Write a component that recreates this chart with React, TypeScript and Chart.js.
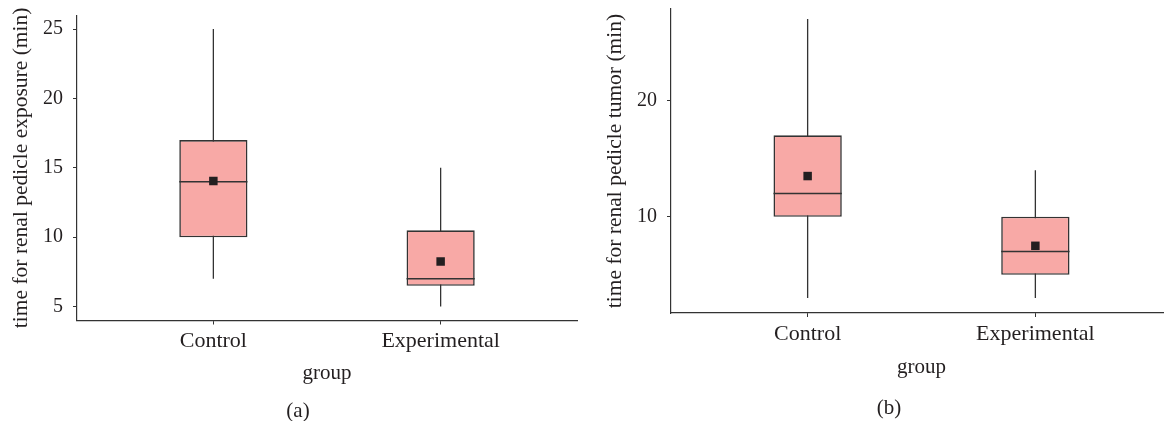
import React, { useEffect, useRef } from "react";
import { Chart, registerables } from "chart.js";

Chart.register(...registerables);

// ---------- data ----------
const groups = ["Control", "Experimental"];

// Panel (a): time for renal pedicle exposure (min)
const exposureMin = [7, 5];
const exposureQ1 = [10, 6.5];
const exposureMedian = [14, 7];
const exposureQ3 = [17, 10.5];
const exposureMax = [25, 15];
const exposureMean = [14.05, 8.25];
const exposureTicks = [5, 10, 15, 20, 25];

// Panel (b): time for renal pedicle tumor (min)
const tumorMin = [3, 3];
const tumorQ1 = [10, 5];
const tumorMedian = [12, 7];
const tumorQ3 = [17, 10];
const tumorMax = [27, 14];
const tumorMean = [13.5, 7.5];
const tumorTicks = [10, 20];

// ---------- style ----------
const FONT = '"Liberation Serif", "DejaVu Serif", serif';
const TEXT = "#231F20";
const LINE = "#333333";
const FILL = "#F8A9A6";
const BOX_WIDTH = 0.3;

function buildDatasets(
  mins: number[],
  q1: number[],
  med: number[],
  q3: number[],
  maxs: number[],
  mean: number[]
): any[] {
  const whiskers: any[] = [];
  const medians: any[] = [];
  groups.forEach((_, i) => {
    const x = i + 1;
    whiskers.push({ x, y: mins[i] }, { x, y: maxs[i] }, { x, y: null });
    medians.push(
      { x: x - BOX_WIDTH / 2, y: med[i] },
      { x: x + BOX_WIDTH / 2, y: med[i] },
      { x, y: null }
    );
  });
  return [
    {
      type: "line",
      label: "mean",
      data: mean.map((m, i) => ({ x: i + 1, y: m })),
      showLine: false,
      pointStyle: "rect",
      pointRadius: 6,
      pointHoverRadius: 6,
      pointBackgroundColor: "#231F20",
      pointBorderWidth: 0,
      order: 0,
    },
    {
      type: "line",
      label: "median",
      data: medians,
      borderColor: LINE,
      borderWidth: 1.5,
      pointRadius: 0,
      spanGaps: false,
      order: 1,
    },
    {
      type: "bar",
      label: "box",
      data: q1.map((v, i) => ({ x: i + 1, y: [v, q3[i]] })),
      backgroundColor: FILL,
      borderColor: LINE,
      borderWidth: 1.6,
      borderSkipped: false,
      barPercentage: BOX_WIDTH,
      categoryPercentage: 1,
      order: 2,
    },
    {
      type: "line",
      label: "whisker",
      data: whiskers,
      borderColor: LINE,
      borderWidth: 1.3,
      pointRadius: 0,
      spanGaps: false,
      order: 3,
    },
  ];
}

const captionPlugin = {
  id: "caption",
  afterDraw(chart: any, _args: any, opts: any) {
    const { ctx } = chart;
    ctx.save();
    ctx.font = `21px ${FONT}`;
    ctx.fillStyle = TEXT;
    ctx.textAlign = "center";
    ctx.textBaseline = "middle";
    ctx.fillText(opts.text, opts.x, opts.y);
    ctx.restore();
  },
};

type PanelProps = {
  left: number;
  viewWidth: number;
  canvasWidth: number;
  yAxisWidth: number;
  xAxisHeight: number;
  padTop: number;
  padRight: number;
  yMin: number;
  yMax: number;
  xMax: number;
  yTicks: number[];
  yTitle: string;
  yTitlePad: number;
  xTitlePad: number;
  caption: string;
  captionX: number;
  captionY: number;
  datasets: any[];
};

function Panel(p: PanelProps) {
  const ref = useRef<HTMLCanvasElement | null>(null);
  useEffect(() => {
    if (!ref.current) return;
    const chart = new Chart(ref.current, {
      type: "bar",
      data: { datasets: p.datasets },
      plugins: [captionPlugin as any],
      options: {
        animation: false,
        responsive: false,
        maintainAspectRatio: false,
        layout: {
          autoPadding: false,
          padding: { left: 0, right: p.padRight, top: p.padTop, bottom: 0 },
        },
        plugins: {
          legend: { display: false },
          tooltip: { enabled: false },
          caption: { text: p.caption, x: p.captionX, y: p.captionY },
        } as any,
        scales: {
          x: {
            type: "linear",
            min: 0.4,
            max: p.xMax,
            offset: false,
            afterBuildTicks: (s: any) => {
              s.ticks = groups.map((_, i) => ({ value: i + 1 }));
            },
            afterFit: (s: any) => {
              s.height = p.xAxisHeight;
              s.paddingLeft = 0;
              s.paddingRight = 0;
              s.paddingTop = 0;
              s.paddingBottom = 0;
            },
            ticks: {
              callback: (v: any) => groups[Number(v) - 1] ?? "",
              font: { family: FONT, size: 22 },
              color: TEXT,
              padding: 3.8,
              maxRotation: 0,
              autoSkip: false,
            },
            grid: {
              display: true,
              offset: false,
              drawOnChartArea: false,
              drawTicks: true,
              tickLength: 4,
              color: LINE,
              lineWidth: 1,
            },
            border: { display: true, color: LINE, width: 1.2 },
            title: {
              display: true,
              text: "group",
              font: { family: FONT, size: 21 },
              color: TEXT,
              padding: { top: 0, bottom: p.xTitlePad },
            },
          },
          y: {
            type: "linear",
            min: p.yMin,
            max: p.yMax,
            afterBuildTicks: (s: any) => {
              s.ticks = p.yTicks.map((v) => ({ value: v }));
            },
            afterFit: (s: any) => {
              s.width = p.yAxisWidth;
              s.paddingLeft = 0;
              s.paddingRight = 0;
              s.paddingTop = 0;
              s.paddingBottom = 0;
            },
            ticks: {
              font: { family: FONT, size: 20 },
              color: TEXT,
              padding: 10,
            },
            grid: {
              display: true,
              drawOnChartArea: false,
              drawTicks: true,
              tickLength: 4,
              color: LINE,
              lineWidth: 1,
            },
            border: { display: true, color: LINE, width: 1.2 },
            title: {
              display: true,
              text: p.yTitle,
              font: { family: FONT, size: 21.5 },
              color: TEXT,
              padding: { top: p.yTitlePad, bottom: 0 },
            },
          },
        },
      } as any,
    });
    return () => chart.destroy();
  }, []);

  return (
    <div
      style={{
        position: "absolute",
        left: p.left,
        top: 0,
        width: p.viewWidth,
        height: 421,
        overflow: "hidden",
      }}
    >
      <canvas
        ref={ref}
        width={p.canvasWidth}
        height={421}
        style={{ display: "block", width: p.canvasWidth, height: 421 }}
      />
    </div>
  );
}

export default function App() {
  return (
    <div style={{ position: "absolute", left: 0, top: 0, width: 1164, height: 421, overflow: "hidden", background: "#fff" }}>
      <Panel
        left={0}
        viewWidth={580}
        canvasWidth={580}
        yAxisWidth={77}
        xAxisHeight={100.5}
        padTop={15.2}
        padRight={3}
        yMin={4}
        yMax={26}
        xMax={2.6}
        yTicks={exposureTicks}
        yTitle="time for renal pedicle exposure (min)"
        yTitlePad={8.1}
        xTitlePad={35.4}
        caption="(a)"
        captionX={298}
        captionY={411}
        datasets={buildDatasets(exposureMin, exposureQ1, exposureMedian, exposureQ3, exposureMax, exposureMean)}
      />
      <Panel
        left={580}
        viewWidth={584}
        canvasWidth={592}
        yAxisWidth={91}
        xAxisHeight={108}
        padTop={9}
        padRight={0}
        yMin={1.72}
        yMax={27.87}
        xMax={2.6}
        yTicks={tumorTicks}
        yTitle="time for renal pedicle tumor (min)"
        yTitlePad={22.6}
        xTitlePad={41.4}
        caption="(b)"
        captionX={309}
        captionY={408}
        datasets={buildDatasets(tumorMin, tumorQ1, tumorMedian, tumorQ3, tumorMax, tumorMean)}
      />
    </div>
  );
}
